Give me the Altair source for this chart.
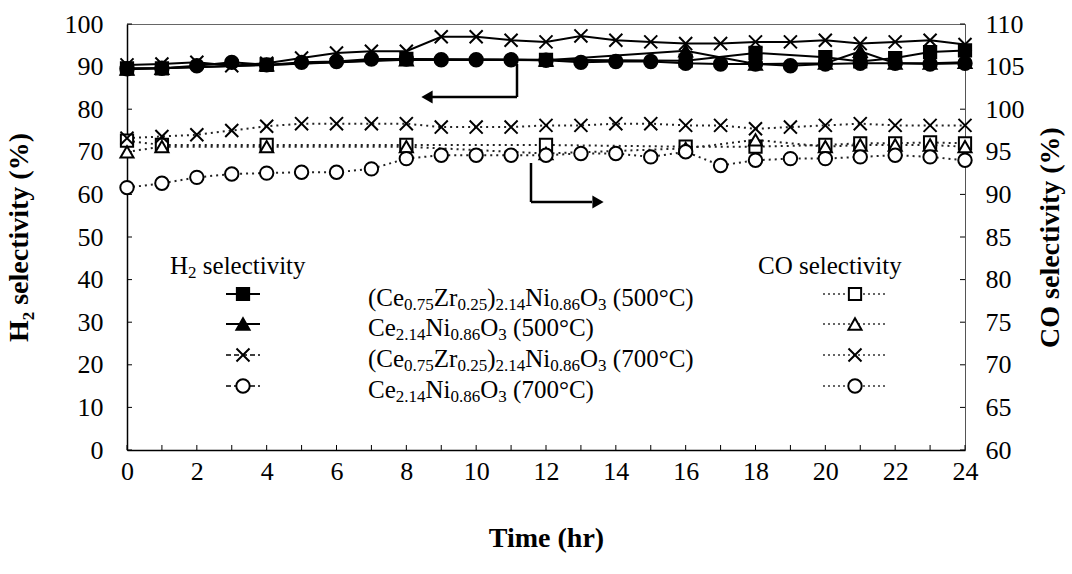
import altair as alt
import pandas as pd

# ---------------- data ----------------
hours_hourly = list(range(25))
hours_500 = [0, 1, 4, 8, 12, 16, 18, 20, 21, 22, 23, 24]

# H2 selectivity (%), left axis
h2_cezr_500 = [89.6, 89.6, 90.4, 91.8, 91.6, 91.4, 93.2, 92.2, 91.2, 92.0, 93.4, 93.8]
h2_ce_500 = [89.4, 89.6, 90.4, 91.6, 91.5, 93.7, 90.6, 90.8, 93.6, 90.8, 90.8, 91.0]
h2_cezr_700 = [90.4, 90.6, 91.0, 90.2, 90.8, 92.0, 93.2, 93.6, 93.6, 97.0, 97.0, 96.2, 95.8,
               97.2, 96.2, 95.8, 95.4, 95.4, 95.8, 95.8, 96.2, 95.4, 95.8, 96.2, 95.2]
h2_ce_700 = [89.5, 89.6, 90.2, 91.0, 90.4, 91.0, 91.2, 91.8, 91.8, 91.6, 91.6, 91.6, 91.5,
             91.0, 91.2, 91.2, 90.8, 90.6, 90.6, 90.2, 90.6, 90.8, 90.8, 90.6, 90.8]

# CO selectivity (%), right axis
co_cezr_500 = [96.3, 95.8, 95.8, 95.8, 95.8, 95.6, 95.6, 95.8, 96.0, 96.0, 96.1, 96.0]
co_ce_500 = [95.0, 95.6, 95.6, 95.6, 94.8, 95.4, 96.4, 95.6, 95.8, 95.8, 95.8, 95.6]
co_cezr_700 = [96.6, 96.8, 97.0, 97.5, 98.0, 98.3, 98.3, 98.3, 98.3, 97.9, 97.9, 97.9, 98.1,
               98.1, 98.3, 98.3, 98.1, 98.1, 97.7, 97.9, 98.1, 98.3, 98.1, 98.1, 98.1]
co_ce_700 = [90.8, 91.3, 92.0, 92.4, 92.5, 92.6, 92.6, 93.0, 94.2, 94.6, 94.6, 94.6, 94.6,
             94.8, 94.8, 94.4, 95.0, 93.4, 94.0, 94.2, 94.2, 94.4, 94.6, 94.4, 94.0]

x_ticks = list(range(0, 25, 2))
y_left_ticks = list(range(0, 101, 10))
y_right_ticks = list(range(60, 111, 5))

x_title = "Time (hr)"
y_left_title = "H₂ selectivity (%)"
y_right_title = "CO selectivity (%)"

# legend texts: (text, is_subscript)
legend_h2_title = [("H", 0), ("2", 1), (" selectivity", 0)]
legend_co_title = [("CO selectivity", 0)]
legend_labels = [
    [("(Ce", 0), ("0.75", 1), ("Zr", 0), ("0.25", 1), (")", 0), ("2.14", 1), ("Ni", 0),
     ("0.86", 1), ("O", 0), ("3", 1), (" (500°C)", 0)],
    [("Ce", 0), ("2.14", 1), ("Ni", 0), ("0.86", 1), ("O", 0), ("3", 1), (" (500°C)", 0)],
    [("(Ce", 0), ("0.75", 1), ("Zr", 0), ("0.25", 1), (")", 0), ("2.14", 1), ("Ni", 0),
     ("0.86", 1), ("O", 0), ("3", 1), (" (700°C)", 0)],
    [("Ce", 0), ("2.14", 1), ("Ni", 0), ("0.86", 1), ("O", 0), ("3", 1), (" (700°C)", 0)],
]

# ---------------- layout ----------------
W, H = 838, 426
PAD = {"left": 127, "top": 24, "right": 107, "bottom": 124}
PXH = W / 24.0          # px per hour
PXV = H / 100.0         # px per H2 unit
FONT = "Liberation Serif"
NORM, SUB = 25, 17


def hx(px):   # page x -> hour
    return (px - PAD["left"]) / PXH


def hy(py):   # page y -> H2 value
    return (PAD["top"] + H - py) / PXV


keys = ["H2_CeZr500", "H2_Ce500", "H2_CeZr700", "H2_Ce700",
        "CO_CeZr500", "CO_Ce500", "CO_CeZr700", "CO_Ce700"]
XPATH = "M-1,-1L1,1M-1,1L1,-1"
shapes = ["square", "triangle-up", XPATH, "circle", "square", "triangle-up", XPATH, "circle"]
fills = ["black", "black", "transparent", "black", "white", "white", "transparent", "white"]
size_of = {"square": 150, "triangle-up": 170, XPATH: 170, "circle": 180}

rows = []
for key, hrs, vals in [
    ("H2_CeZr500", hours_500, h2_cezr_500), ("H2_Ce500", hours_500, h2_ce_500),
    ("H2_CeZr700", hours_hourly, h2_cezr_700), ("H2_Ce700", hours_hourly, h2_ce_700),
    ("CO_CeZr500", hours_500, co_cezr_500), ("CO_Ce500", hours_500, co_ce_500),
    ("CO_CeZr700", hours_hourly, co_cezr_700), ("CO_Ce700", hours_hourly, co_ce_700),
]:
    for h, v in zip(hrs, vals):
        rows.append({"key": key, "kind": key[:2], "hour": h, "value": v,
                     "sz": size_of[shapes[keys.index(key)]]})
df = pd.DataFrame(rows)
h2_df = df[df.kind == "H2"]
co_df = df[df.kind == "CO"]


def xscale():
    return alt.Scale(domain=[0, 24], nice=False, zero=False)


def yh2():
    return alt.Scale(domain=[0, 100], nice=False, zero=False)


def yco():
    return alt.Scale(domain=[60, 110], nice=False, zero=False)


shape_enc = alt.Shape("key:N", scale=alt.Scale(domain=keys, range=shapes), legend=None)
fill_enc = alt.Fill("key:N", scale=alt.Scale(domain=keys, range=fills), legend=None)


def x_axis():
    return alt.Axis(values=x_ticks, title=x_title, format="d", orient="bottom",
                    labelPadding=8, titlePadding=40)


y_left_axis = alt.Axis(values=y_left_ticks, title=y_left_title, format="d", orient="left",
                       labelPadding=24, titlePadding=31)
y_right_axis = alt.Axis(values=y_right_ticks, title=y_right_title, orient="right",
                        format="d", labelPadding=20, titlePadding=40, titleAngle=270,
                        domainColor="#555", domainWidth=1)


def X(field="hour"):
    # identical axis definition on every layer so the shared x axis merges
    return alt.X(f"{field}:Q", scale=xscale(), axis=x_axis())


def Yh(field="value", axis=None):
    return alt.Y(f"{field}:Q", scale=yh2(), axis=axis)


def Yc(field="value", axis=None):
    return alt.Y(f"{field}:Q", scale=yco(), axis=axis)


# ---------------- data marks ----------------
h2_lines = alt.Chart(h2_df).mark_line(color="black", strokeWidth=2).encode(
    x=X(), y=Yh(axis=y_left_axis), detail="key:N")
h2_pts = alt.Chart(h2_df).mark_point(filled=True, stroke="black", strokeWidth=2,
                                     opacity=1).encode(
    x=X(), y=Yh(), shape=shape_enc, fill=fill_enc, size=alt.Size("sz:Q", scale=None))

co_lines = alt.Chart(co_df).mark_line(color="#222", strokeWidth=2,
                                      strokeDash=[2, 4]).encode(
    x=X(), y=Yc(axis=y_right_axis), detail="key:N")
co_pts = alt.Chart(co_df).mark_point(filled=True, stroke="black", strokeWidth=2,
                                     opacity=1).encode(
    x=X(), y=Yc(), shape=shape_enc, fill=fill_enc, size=alt.Size("sz:Q", scale=None))

# inner ticks
lt = pd.DataFrame({"y": y_left_ticks, "x": 0.0, "x2": 5 / PXH})
left_ticks = alt.Chart(lt).mark_rule(color="black", strokeWidth=1).encode(
    x=X("x"), x2="x2:Q", y=Yh("y"))
bt = pd.DataFrame({"x": hours_hourly, "y": 0.0, "y2": 5 / PXV})
bottom_ticks = alt.Chart(bt).mark_rule(color="black", strokeWidth=1).encode(
    x=X("x"), y=Yh("y"), y2="y2:Q")
rt = pd.DataFrame({"y": y_right_ticks, "x": 24 - 5 / PXH, "x2": 24.0})
right_ticks = alt.Chart(rt).mark_rule(color="black", strokeWidth=1).encode(
    x=X("x"), x2="x2:Q", y=Yc("y"))

# arrows
arr = pd.DataFrame([
    {"x": hx(517), "x2": hx(517), "y": hy(64), "y2": hy(97)},
    {"x": hx(517), "x2": hx(432), "y": hy(97), "y2": hy(97)},
    {"x": hx(531), "x2": hx(531), "y": hy(163), "y2": hy(202)},
    {"x": hx(531), "x2": hx(592), "y": hy(202), "y2": hy(202)},
])
arrows = alt.Chart(arr).mark_rule(color="black", strokeWidth=2.5).encode(
    x=X("x"), x2="x2:Q", y=Yh("y"), y2="y2:Q")
head_l = alt.Chart(pd.DataFrame([{"x": hx(427), "y": hy(97)}])).mark_point(
    shape="triangle-left", filled=True, color="black", opacity=1, size=170).encode(
    x=X("x"), y=Yh("y"))
head_r = alt.Chart(pd.DataFrame([{"x": hx(598), "y": hy(202)}])).mark_point(
    shape="triangle-right", filled=True, color="black", opacity=1, size=170).encode(
    x=X("x"), y=Yh("y"))

# ---------------- legend (drawn inside the plot) ----------------
WEM = {"(": .333, ")": .333, "C": .667, "e": .444, "Z": .611, "r": .333, "N": .722,
       "i": .278, "O": .722, " ": .25, "°": .4, ".": .25, "H": .722, "s": .389,
       "l": .278, "c": .444, "t": .278, "v": .5, "y": .5}


def segs(parts, px0, py):
    out, off = [], 0.0
    for txt, sub in parts:
        fs = SUB if sub else NORM
        if txt.startswith(" "):
            off += WEM[" "] * fs
            txt = txt[1:]
        out.append({"x": hx(px0 + off), "y": hy(py), "t": txt, "sub": sub})
        off += sum(WEM.get(c, 0.5) for c in txt) * fs
    return out


row_py = [298, 328, 359, 390]
seg_rows = segs(legend_h2_title, 170, 266) + segs(legend_co_title, 758, 266)
for parts, py in zip(legend_labels, row_py):
    seg_rows += segs(parts, 368, py)
seg_df = pd.DataFrame(seg_rows)
leg_norm = alt.Chart(seg_df[seg_df["sub"] == 0]).mark_text(
    align="left", baseline="middle", font=FONT, fontSize=NORM, color="black").encode(
    x=X("x"), y=Yh("y"), text="t:N")
leg_sub = alt.Chart(seg_df[seg_df["sub"] == 1]).mark_text(
    align="left", baseline="middle", font=FONT, fontSize=SUB, color="black", dy=7).encode(
    x=X("x"), y=Yh("y"), text="t:N")

sym_keys_h2 = ["H2_CeZr500", "H2_Ce500", "H2_CeZr700", "CO_Ce700"]
sym_keys_co = ["CO_CeZr500", "CO_Ce500", "CO_CeZr700", "CO_Ce700"]
sym_rows = []
for k, py in zip(sym_keys_h2, row_py):
    sym_rows.append({"key": k, "x": hx(243), "y": hy(py - 4),
                     "sz": size_of[shapes[keys.index(k)]]})
for k, py in zip(sym_keys_co, row_py):
    sym_rows.append({"key": k, "x": hx(855), "y": hy(py - 4),
                     "sz": size_of[shapes[keys.index(k)]]})
sym_df = pd.DataFrame(sym_rows)
leg_syms = alt.Chart(sym_df).mark_point(filled=True, stroke="black", strokeWidth=2,
                                        opacity=1).encode(
    x=X("x"), y=Yh("y"), shape=shape_enc, fill=fill_enc, size=alt.Size("sz:Q", scale=None))

ll_solid = pd.DataFrame([{"x": hx(226), "x2": hx(260), "y": hy(py - 4)} for py in row_py[:2]])
ll_dash = pd.DataFrame([{"x": hx(226), "x2": hx(260), "y": hy(py - 4)} for py in row_py[2:]])
ll_dot = pd.DataFrame([{"x": hx(823), "x2": hx(887), "y": hy(py - 4)} for py in row_py])
leg_l1 = alt.Chart(ll_solid).mark_rule(color="black", strokeWidth=2).encode(
    x=X("x"), x2="x2:Q", y=Yh("y"))
leg_l2 = alt.Chart(ll_dash).mark_rule(color="black", strokeWidth=1.5,
                                      strokeDash=[5, 3]).encode(
    x=X("x"), x2="x2:Q", y=Yh("y"))
leg_l3 = alt.Chart(ll_dot).mark_rule(color="#333", strokeWidth=1.5,
                                     strokeDash=[2, 3]).encode(
    x=X("x"), x2="x2:Q", y=Yh("y"))

chart = alt.layer(
    h2_lines, co_lines, right_ticks, left_ticks, bottom_ticks, co_pts, h2_pts,
    arrows, head_l, head_r, leg_l1, leg_l2, leg_l3, leg_syms, leg_norm, leg_sub
).resolve_scale(y="independent").properties(
    width=W, height=H, padding=PAD, autosize="none", background="white"
).configure_view(
    stroke="#666", strokeWidth=1
).configure_axis(
    ticks=False, grid=False, domainColor="black", domainWidth=1.5,
    labelFont=FONT, labelFontSize=26, labelColor="black", labelFlush=False,
    labelOverlap=False, titleFont=FONT, titleFontSize=28, titleFontWeight="bold",
    titleColor="black"
)

chart.save("out.html", embed_options={"renderer": "svg", "actions": False})
